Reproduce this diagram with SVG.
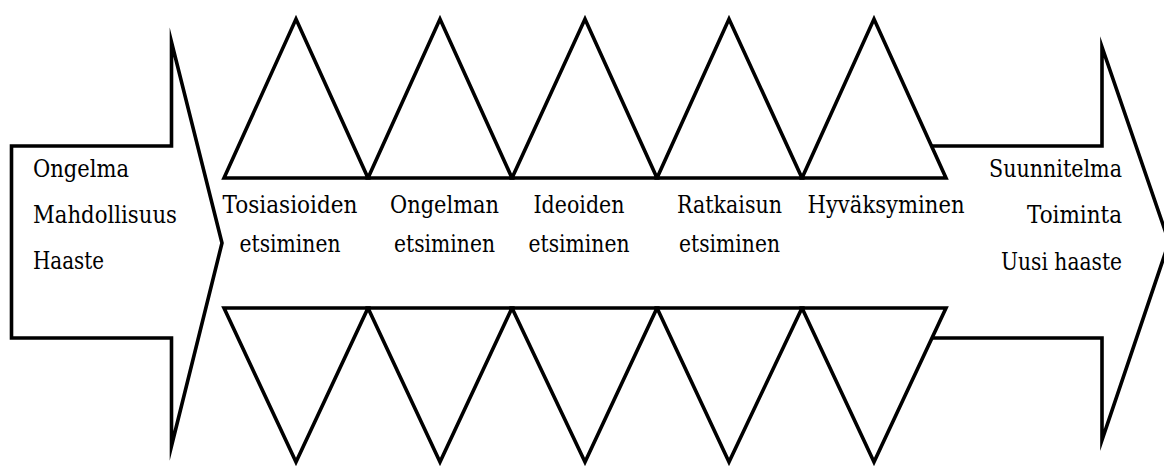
<svg xmlns="http://www.w3.org/2000/svg" width="1164" height="466" viewBox="0 0 1164 466">
<style>
.sh{fill:#fff;stroke:#000;stroke-width:3.6;stroke-linejoin:miter;stroke-miterlimit:12}
.t{font-family:'DejaVu Serif','Liberation Serif',serif;font-size:24.5px;fill:#000}
.m{text-anchor:middle}
.e{text-anchor:end}
</style>
<rect width="1164" height="466" fill="#fff"/>
<g id="right-arrow">
<path class="sh" d="M925,146 L1102,146 L1102,47 L1169,242 L1102,440 L1102,338 L925,338"/>
<text class="t e" x="1122" y="177" textLength="133" lengthAdjust="spacingAndGlyphs">Suunnitelma</text>
<text class="t e" x="1122" y="223" textLength="95" lengthAdjust="spacingAndGlyphs">Toiminta</text>
<text class="t e" x="1122" y="270" textLength="121" lengthAdjust="spacingAndGlyphs">Uusi haaste</text>
</g>
<g id="left-arrow">
<path class="sh" d="M11.5,146 L171.5,146 L171.5,42 L222,243 L171.5,446 L171.5,338 L11.5,338 Z"/>
<text class="t" x="33" y="177" textLength="96" lengthAdjust="spacingAndGlyphs">Ongelma</text>
<text class="t" x="33" y="223" textLength="144" lengthAdjust="spacingAndGlyphs">Mahdollisuus</text>
<text class="t" x="33" y="269" textLength="71" lengthAdjust="spacingAndGlyphs">Haaste</text>
</g>
<g id="top-triangles">
<path class="sh" d="M224,178 L296,19 L368,178 Z"/>
<path class="sh" d="M368,178 L440,19 L512,178 Z"/>
<path class="sh" d="M512,178 L585,19 L657,178 Z"/>
<path class="sh" d="M657,178 L729,19 L802,178 Z"/>
<path class="sh" d="M802,178 L874,19 L946,178 Z"/>
</g>
<g id="bottom-triangles">
<path class="sh" d="M224,308 L296,462 L368,308 Z"/>
<path class="sh" d="M368,308 L440,462 L512,308 Z"/>
<path class="sh" d="M512,308 L585,462 L657,308 Z"/>
<path class="sh" d="M657,308 L729,462 L802,308 Z"/>
<path class="sh" d="M802,308 L874,462 L946,308 Z"/>
</g>
<g id="step1"><text class="t m" x="290" y="213" textLength="135" lengthAdjust="spacingAndGlyphs">Tosiasioiden</text><text class="t m" x="290" y="252" textLength="101" lengthAdjust="spacingAndGlyphs">etsiminen</text></g>
<g id="step2"><text class="t m" x="444.5" y="213" textLength="109" lengthAdjust="spacingAndGlyphs">Ongelman</text><text class="t m" x="444.5" y="252" textLength="101" lengthAdjust="spacingAndGlyphs">etsiminen</text></g>
<g id="step3"><text class="t m" x="579" y="213" textLength="91" lengthAdjust="spacingAndGlyphs">Ideoiden</text><text class="t m" x="579" y="252" textLength="101" lengthAdjust="spacingAndGlyphs">etsiminen</text></g>
<g id="step4"><text class="t m" x="729.5" y="213" textLength="105" lengthAdjust="spacingAndGlyphs">Ratkaisun</text><text class="t m" x="729.5" y="252" textLength="101" lengthAdjust="spacingAndGlyphs">etsiminen</text></g>
<g id="step5"><text class="t m" x="886" y="213" textLength="157" lengthAdjust="spacingAndGlyphs">Hyväksyminen</text></g>
<g id="connectors"></g>
</svg>
